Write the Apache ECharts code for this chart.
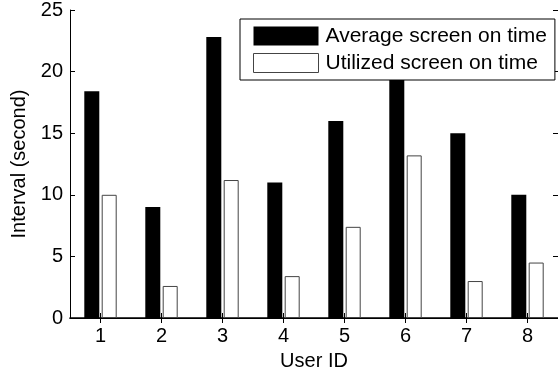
<!DOCTYPE html>
<html>
<head>
<meta charset="utf-8">
<script src="https://cdn.jsdelivr.net/npm/echarts@6/dist/echarts.min.js"></script>
<style>
  html, body { margin: 0; padding: 0; background: #fff; }
  #chart { width: 558px; height: 377px; }
</style>
</head>
<body>
<div id="chart"></div>
<script>
// Per-user screen-on intervals, in seconds
const userIds = ['1', '2', '3', '4', '5', '6', '7', '8'];
const averageOnTime = [18.4, 9.0, 22.8, 11.0, 16.0, 20.0, 15.0, 10.0];
const utilizedOnTime = [10.0, 2.6, 11.2, 3.4, 7.4, 13.2, 3.0, 4.5];
const seriesNames = ['Average screen on time', 'Utilized screen on time'];

const FONT = '"Liberation Sans", Arial, Helvetica, sans-serif';
const black = '#000';

const chart = echarts.init(document.getElementById('chart'), null, { renderer: 'canvas' });

const tick = { show: true, inside: true, length: 5, lineStyle: { color: black, width: 1 } };

chart.setOption({
  animation: false,
  backgroundColor: '#fff',
  textStyle: { fontFamily: FONT },
  grid: { left: 70, top: 7.5, width: 491, height: 310.5, containLabel: false },
  legend: {
    orient: 'vertical',
    left: 240,
    top: 19,
    padding: [6.5, 8, 6.5, 13],
    itemGap: 6,
    itemWidth: 65,
    itemHeight: 19,
    icon: 'rect',
    borderColor: black,
    borderWidth: 1,
    backgroundColor: '#fff',
    textStyle: { fontSize: 21, color: black, fontFamily: FONT, lineHeight: 19, padding: [0, 0, 0, 2] },
    data: [
      { name: seriesNames[0], itemStyle: { color: black, borderWidth: 0 } },
      { name: seriesNames[1], itemStyle: { color: '#fff', borderColor: '#444', borderWidth: 1 } }
    ]
  },
  xAxis: [
    {
      type: 'category',
      data: userIds,
      position: 'bottom',
      boundaryGap: true,
      name: 'User ID',
      nameLocation: 'middle',
      nameGap: 33,
      nameTextStyle: { fontSize: 20, color: black, fontFamily: FONT },
      axisLine: { show: true, lineStyle: { color: black, width: 1.5 } },
      axisTick: Object.assign({ alignWithLabel: true }, tick),
      axisLabel: { fontSize: 20, color: black, margin: 8, fontFamily: FONT },
      splitLine: { show: false }
    },
    {
      type: 'category',
      data: userIds,
      position: 'top',
      boundaryGap: true,
      axisLine: { show: true, lineStyle: { color: black, width: 1 } },
      axisTick: Object.assign({ alignWithLabel: true }, tick),
      axisLabel: { show: false },
      splitLine: { show: false }
    }
  ],
  yAxis: [
    {
      type: 'value',
      min: 0,
      max: 25,
      interval: 5,
      position: 'left',
      name: 'Interval (second)',
      nameLocation: 'middle',
      nameGap: 40,
      nameRotate: 90,
      nameTextStyle: { fontSize: 20, color: black, fontFamily: FONT },
      axisLine: { show: true, lineStyle: { color: black, width: 1 } },
      axisTick: tick,
      axisLabel: { fontSize: 20, color: black, margin: 7, fontFamily: FONT },
      splitLine: { show: false }
    },
    {
      type: 'value',
      min: 0,
      max: 25,
      interval: 5,
      position: 'right',
      axisLine: { show: true, lineStyle: { color: black, width: 1 } },
      axisTick: tick,
      axisLabel: { show: false },
      splitLine: { show: false }
    }
  ],
  series: [
    {
      name: seriesNames[0],
      type: 'bar',
      data: averageOnTime,
      barWidth: 15,
      barGap: '16%',
      itemStyle: { color: black }
    },
    {
      name: seriesNames[1],
      type: 'bar',
      data: utilizedOnTime,
      barWidth: 15,
      barGap: '16%',
      itemStyle: { color: '#fff', borderColor: '#444', borderWidth: 1 }
    }
  ]
});
</script>
</body>
</html>
